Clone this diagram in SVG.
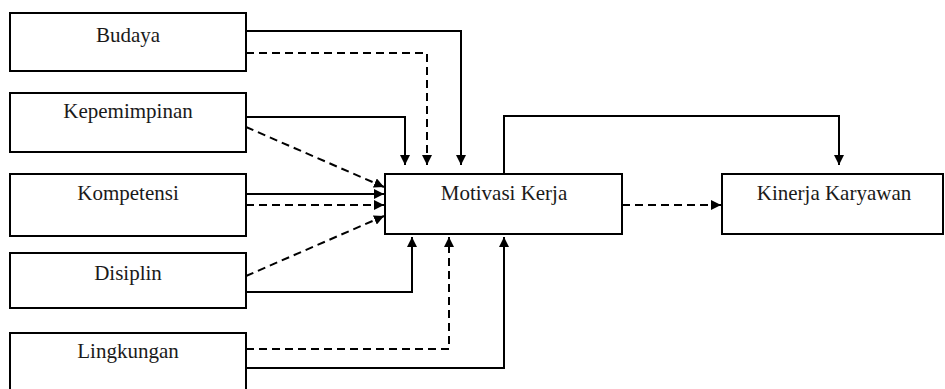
<svg xmlns="http://www.w3.org/2000/svg" width="945" height="389" viewBox="0 0 945 389">
<style>
.box{fill:#fff;stroke:#000;stroke-width:2}
.t{font-family:'Liberation Serif','Times New Roman',Times,serif;font-size:21px;fill:#1a1a1a;text-anchor:middle}
.c{fill:none;stroke:#000;stroke-width:2}
.d{stroke-dasharray:8,5}
</style>
<defs>
<marker id="ah" markerWidth="10" markerHeight="10" viewBox="0 0 10 10" refX="10" refY="5" orient="auto" markerUnits="userSpaceOnUse">
<path d="M0,0 L10,5 L0,10 Z" fill="#000"/>
</marker>
</defs>
<rect width="945" height="389" fill="#fff"/>
<g id="budaya"><rect class="box" x="10" y="13" width="236" height="58"/><text class="t" x="128" y="42">Budaya</text></g>
<g id="kepemimpinan"><rect class="box" x="10" y="93" width="236" height="59"/><text class="t" x="128" y="118">Kepemimpinan</text></g>
<g id="kompetensi"><rect class="box" x="10" y="174" width="236" height="62"/><text class="t" x="128" y="200">Kompetensi</text></g>
<g id="disiplin"><rect class="box" x="10" y="253" width="236" height="55"/><text class="t" x="128" y="280">Disiplin</text></g>
<g id="lingkungan"><rect class="box" x="10" y="333" width="236" height="60"/><text class="t" x="128" y="358">Lingkungan</text></g>
<g id="motivasi"><rect class="box" x="385" y="174" width="237" height="60"/><text class="t" x="504" y="200">Motivasi Kerja</text></g>
<g id="kinerja"><rect class="box" x="722" y="174" width="221" height="60"/><text class="t" x="834" y="200">Kinerja Karyawan</text></g>
<g id="connectors">
<path class="c" d="M246,31 H461 V165" marker-end="url(#ah)"/>
<path class="c d" d="M246,53 H427 V165" marker-end="url(#ah)"/>
<path class="c" d="M246,117 H405 V165" marker-end="url(#ah)"/>
<path class="c d" d="M246,127 L384,187" marker-end="url(#ah)"/>
<path class="c" d="M246,194 H384" marker-end="url(#ah)"/>
<path class="c d" d="M246,205 H384" marker-end="url(#ah)"/>
<path class="c d" d="M246,276 L384,216" marker-end="url(#ah)"/>
<path class="c" d="M246,292 H412 V237" marker-end="url(#ah)"/>
<path class="c d" d="M246,349 H449 V237" marker-end="url(#ah)"/>
<path class="c" d="M246,368 H504 V237" marker-end="url(#ah)"/>
<path class="c" d="M504,174 V116 H839 V165" marker-end="url(#ah)"/>
<path class="c d" d="M622,205 H721" marker-end="url(#ah)"/>
</g>
</svg>
